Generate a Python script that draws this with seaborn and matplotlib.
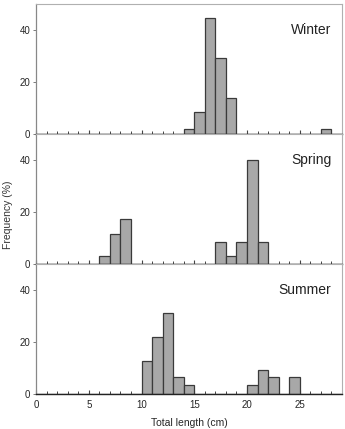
import numpy as np
import pandas as pd
import matplotlib
matplotlib.use("Agg")
import matplotlib.pyplot as plt
import seaborn as sns
from matplotlib.ticker import MultipleLocator

# --- data: length classes (cm, left bin edge) and frequency (%) per season ---
winter_len = [14, 15, 16, 17, 18, 27]
winter_freq = [1.8, 8.6, 44.8, 29.3, 13.8, 1.8]

spring_len = [6, 7, 8, 17, 18, 19, 20, 21]
spring_freq = [2.9, 11.4, 17.2, 8.6, 2.9, 8.6, 40.0, 8.6]

summer_len = [10, 11, 12, 13, 14, 20, 21, 22, 24]
summer_freq = [12.7, 21.9, 31.3, 6.4, 3.3, 3.3, 9.3, 6.4, 6.4]

seasons = ["Winter", "Spring", "Summer"]
x_ticks = [0, 5, 10, 15, 20, 25]
y_ticks = [0, 20, 40]

sns.set_theme(style="white")
plt.rcParams['font.family'] = ['Liberation Sans', 'DejaVu Sans']

fig = plt.figure(figsize=(3.45, 4.29), dpi=100)
left, width = 36 / 345, 306 / 345
panel_h = 130 / 429
bottom0 = 1 - 394 / 429

data = [(winter_len, winter_freq), (spring_len, spring_freq), (summer_len, summer_freq)]

for i, (season, (lens, freq)) in enumerate(zip(seasons, data)):
    ax = fig.add_axes([left, bottom0 + (2 - i) * panel_h, width, panel_h])
    df = pd.DataFrame({"length": np.array(lens) + 0.5, "freq": freq})
    sns.histplot(data=df, x="length", weights="freq", binwidth=1, binrange=(0, 29),
                 ax=ax, color="#a8a8a8", edgecolor="#3a3a3a", linewidth=0.9, alpha=1)
    ax.set_xlim(0, 29)
    ax.set_ylim(0, 50)
    ax.set_yticks(y_ticks)
    ax.xaxis.set_major_locator(MultipleLocator(5))
    ax.xaxis.set_minor_locator(MultipleLocator(1))
    ax.tick_params(axis='x', which='major', direction='in', length=3, width=0.8,
                   color='#444444', labelsize=7, pad=4, bottom=True)
    ax.tick_params(axis='x', which='minor', direction='in', length=2, width=0.7,
                   color='#444444', bottom=True)
    ax.tick_params(axis='y', direction='out', length=2, width=0.6,
                   color='#666666', labelsize=7, pad=2, left=True)
    ax.set_xlabel("")
    ax.set_ylabel("")
    if i < 2:
        ax.set_xticklabels([])
    else:
        ax.set_xticks(x_ticks)
        ax.set_xlabel("Total length (cm)", fontsize=7.5, labelpad=6)
    for side in ["top", "right"]:
        ax.spines[side].set_color("#b0b0b0")
        ax.spines[side].set_linewidth(0.8)
    ax.spines["left"].set_color("#888888")
    ax.spines["left"].set_linewidth(0.9)
    ax.spines["bottom"].set_color("#222222")
    ax.spines["bottom"].set_linewidth(1.0)
    ax.text(0.965, 0.80, season, transform=ax.transAxes, ha="right", va="center",
            fontsize=10, color="#222222")

fig.text(0.022, 0.50, "Frequency (%)", rotation=90, ha="center", va="center",
         fontsize=7.5, color="#333333")

fig.savefig("out.png", dpi=100)
